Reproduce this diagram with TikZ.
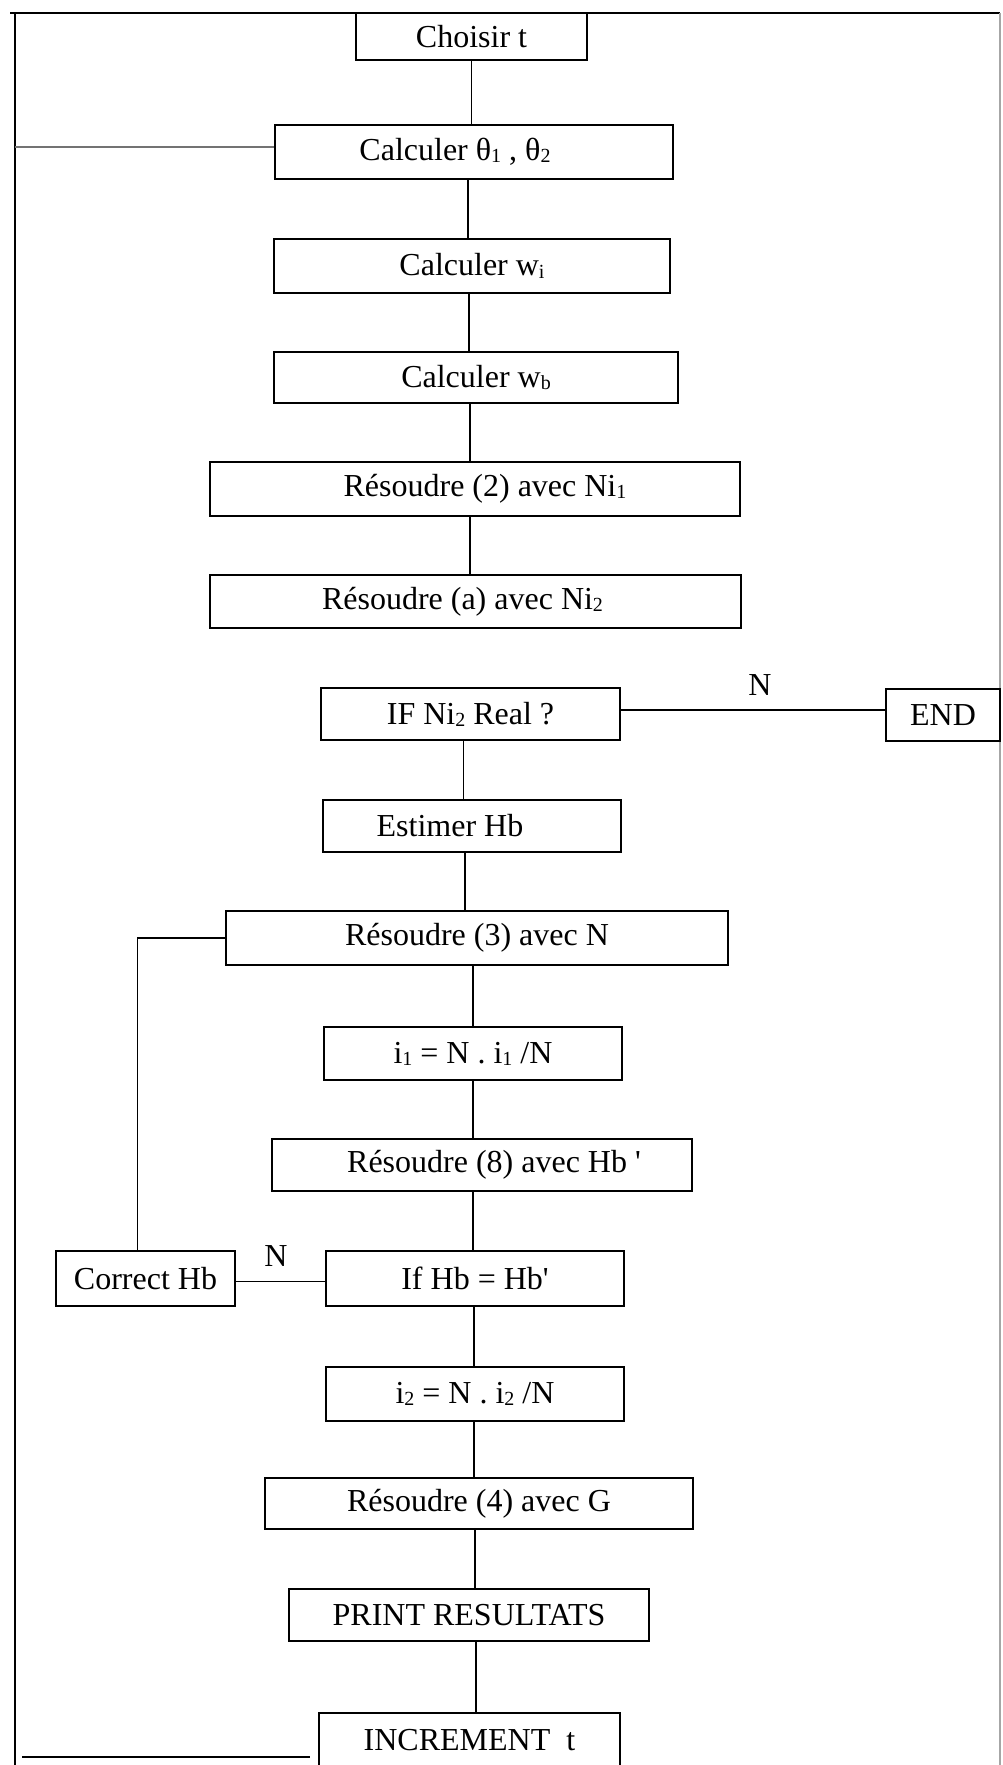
\documentclass[tikz,border=0pt]{standalone}
\usepackage{fontspec}
\setmainfont{Liberation Serif}
\newcommand{\sbs}[1]{\raisebox{-0.15ex}{\fontsize{10}{10}\selectfont #1}}
\begin{document}
\begin{tikzpicture}[x=0.5pt,y=-0.5pt,
  bx/.style={draw, line width=0.9pt, minimum height=27pt, inner sep=0pt, font=\fontsize{16}{18}\selectfont},
  lbl/.style={inner sep=0pt, font=\fontsize{16}{18}\selectfont},
  cn/.style={line width=0.7pt},
  faint/.style={line width=0.6pt, draw=black!55}]
\useasboundingbox (0,0) rectangle (1002,1765);
% frame
\coordinate (ftl) at (10,13);
\coordinate (ftr) at (1000,13);
\coordinate (flt) at (15,13);
\coordinate (flb) at (15,1765);
\coordinate (frb) at (1000,1765);
\draw[line width=1.1pt] (ftl) -- (ftr);
\draw[line width=1.2pt] (flt) -- (flb);
\draw[line width=0.6pt, draw=black!35] (ftr) -- (frb);
% boxes
\node[bx, minimum width=115.5pt, minimum height=23.5pt] (choisir) at (471.5,36.5) {Choisir t};
\node[bx, minimum width=199pt] (theta) at (474,152) {Calculer θ\sbs{1} , θ\sbs{2}\hspace*{19pt}};
\node[bx, minimum width=198pt] (wi) at (472,266) {Calculer w\sbs{i}};
\node[bx, minimum width=202pt, minimum height=25.5pt] (wb) at (476,377.5) {Calculer w\sbs{b}};
\node[bx, minimum width=265pt] (res2) at (475,489) {\hspace*{10pt}Résoudre (2) avec Ni\sbs{1}};
\node[bx, minimum width=265.5pt, minimum height=26.5pt] (resa) at (475.5,601.5) {Résoudre (a) avec Ni\sbs{2}\hspace*{13pt}};
\node[bx, minimum width=149.5pt, minimum height=26pt] (ifni) at (470.5,714) {IF Ni\sbs{2} Real ?};
\node[bx, minimum width=57pt, minimum height=26pt] (end) at (943,715) {END};
\node[bx, minimum width=149pt, minimum height=26pt] (estim) at (472,826) {Estimer Hb\hspace*{22pt}};
\node[bx, minimum width=251pt] (res3) at (477,938) {Résoudre (3) avec N};
\node[bx, minimum width=149pt, minimum height=26.5pt] (ione) at (473,1053.5) {i\sbs{1} = N . i\sbs{1} /N};
\node[bx, minimum width=210pt, minimum height=26pt] (res8) at (482,1165) {\hspace*{12pt}Résoudre (8) avec Hb \textquotesingle};
\node[bx, minimum width=149pt, minimum height=27.5pt] (ifhb) at (475,1278.5) {If Hb = Hb\textquotesingle};
\node[bx, minimum width=89.5pt, minimum height=27.5pt] (correct) at (145.5,1278.5) {Correct Hb};
\node[bx, minimum width=149pt] (itwo) at (475,1394) {i\sbs{2} = N . i\sbs{2} /N};
\node[bx, minimum width=214pt, minimum height=25.5pt] (res4) at (479,1503.5) {Résoudre (4) avec G};
\node[bx, minimum width=180pt, minimum height=26pt] (print) at (469,1615) {PRINT RESULTATS};
\node[bx, minimum width=150.5pt] (incr) at (469.5,1740) {INCREMENT~~t};
% labels
\node[lbl] (n1) at (760,685) {N};
\node[lbl] (n2) at (276,1256) {N};
% connectors
\draw[cn] (choisir.south) -- (choisir.south |- theta.north);
\draw[cn] ([xshift=-3pt]theta.south) -- ([xshift=-3pt]theta.south |- wi.north);
\draw[cn] ([xshift=-1.5pt]wi.south) -- ([xshift=-1.5pt]wi.south |- wb.north);
\draw[cn] ([xshift=-3pt]wb.south) -- ([xshift=-3pt]wb.south |- res2.north);
\draw[cn] ([xshift=-2.5pt]res2.south) -- ([xshift=-2.5pt]res2.south |- resa.north);
\draw[cn] ([xshift=-3.5pt]ifni.south) -- ([xshift=-3.5pt]ifni.south |- estim.north);
\draw[cn] ([xshift=-3.5pt]estim.south) -- ([xshift=-3.5pt]estim.south |- res3.north);
\draw[cn] ([xshift=-2pt]res3.south) -- ([xshift=-2pt]res3.south |- ione.north);
\draw[cn] (ione.south) -- (ione.south |- res8.north);
\draw[cn] ([xshift=-4.5pt]res8.south) -- ([xshift=-4.5pt]res8.south |- ifhb.north);
\draw[cn] ([xshift=-0.5pt]ifhb.south) -- ([xshift=-0.5pt]ifhb.south |- itwo.north);
\draw[cn] ([xshift=-0.5pt]itwo.south) -- ([xshift=-0.5pt]itwo.south |- res4.north);
\draw[cn] ([xshift=-2pt]res4.south) -- ([xshift=-2pt]res4.south |- print.north);
\draw[cn] ([xshift=3.5pt]print.south) -- ([xshift=3.5pt]print.south |- incr.north);
\draw[cn] ([yshift=2pt]ifni.east) -- ([yshift=2pt]ifni.east -| end.west);
\draw[cn] ([yshift=-1.5pt]ifhb.west) -- ([yshift=-1.5pt]ifhb.west -| correct.east);
\draw[cn] ([xshift=-4pt]correct.north) -- ([xshift=-4pt]correct.north |- res3.west) -- (res3.west);
\coordinate (tend) at (15,147);
\draw[faint] (tend) -- (tend -| theta.west);
\coordinate (iend) at (22,1757);
\draw[line width=0.9pt] (iend) -- ([xshift=-4pt]iend -| incr.west);
\end{tikzpicture}
\end{document}
